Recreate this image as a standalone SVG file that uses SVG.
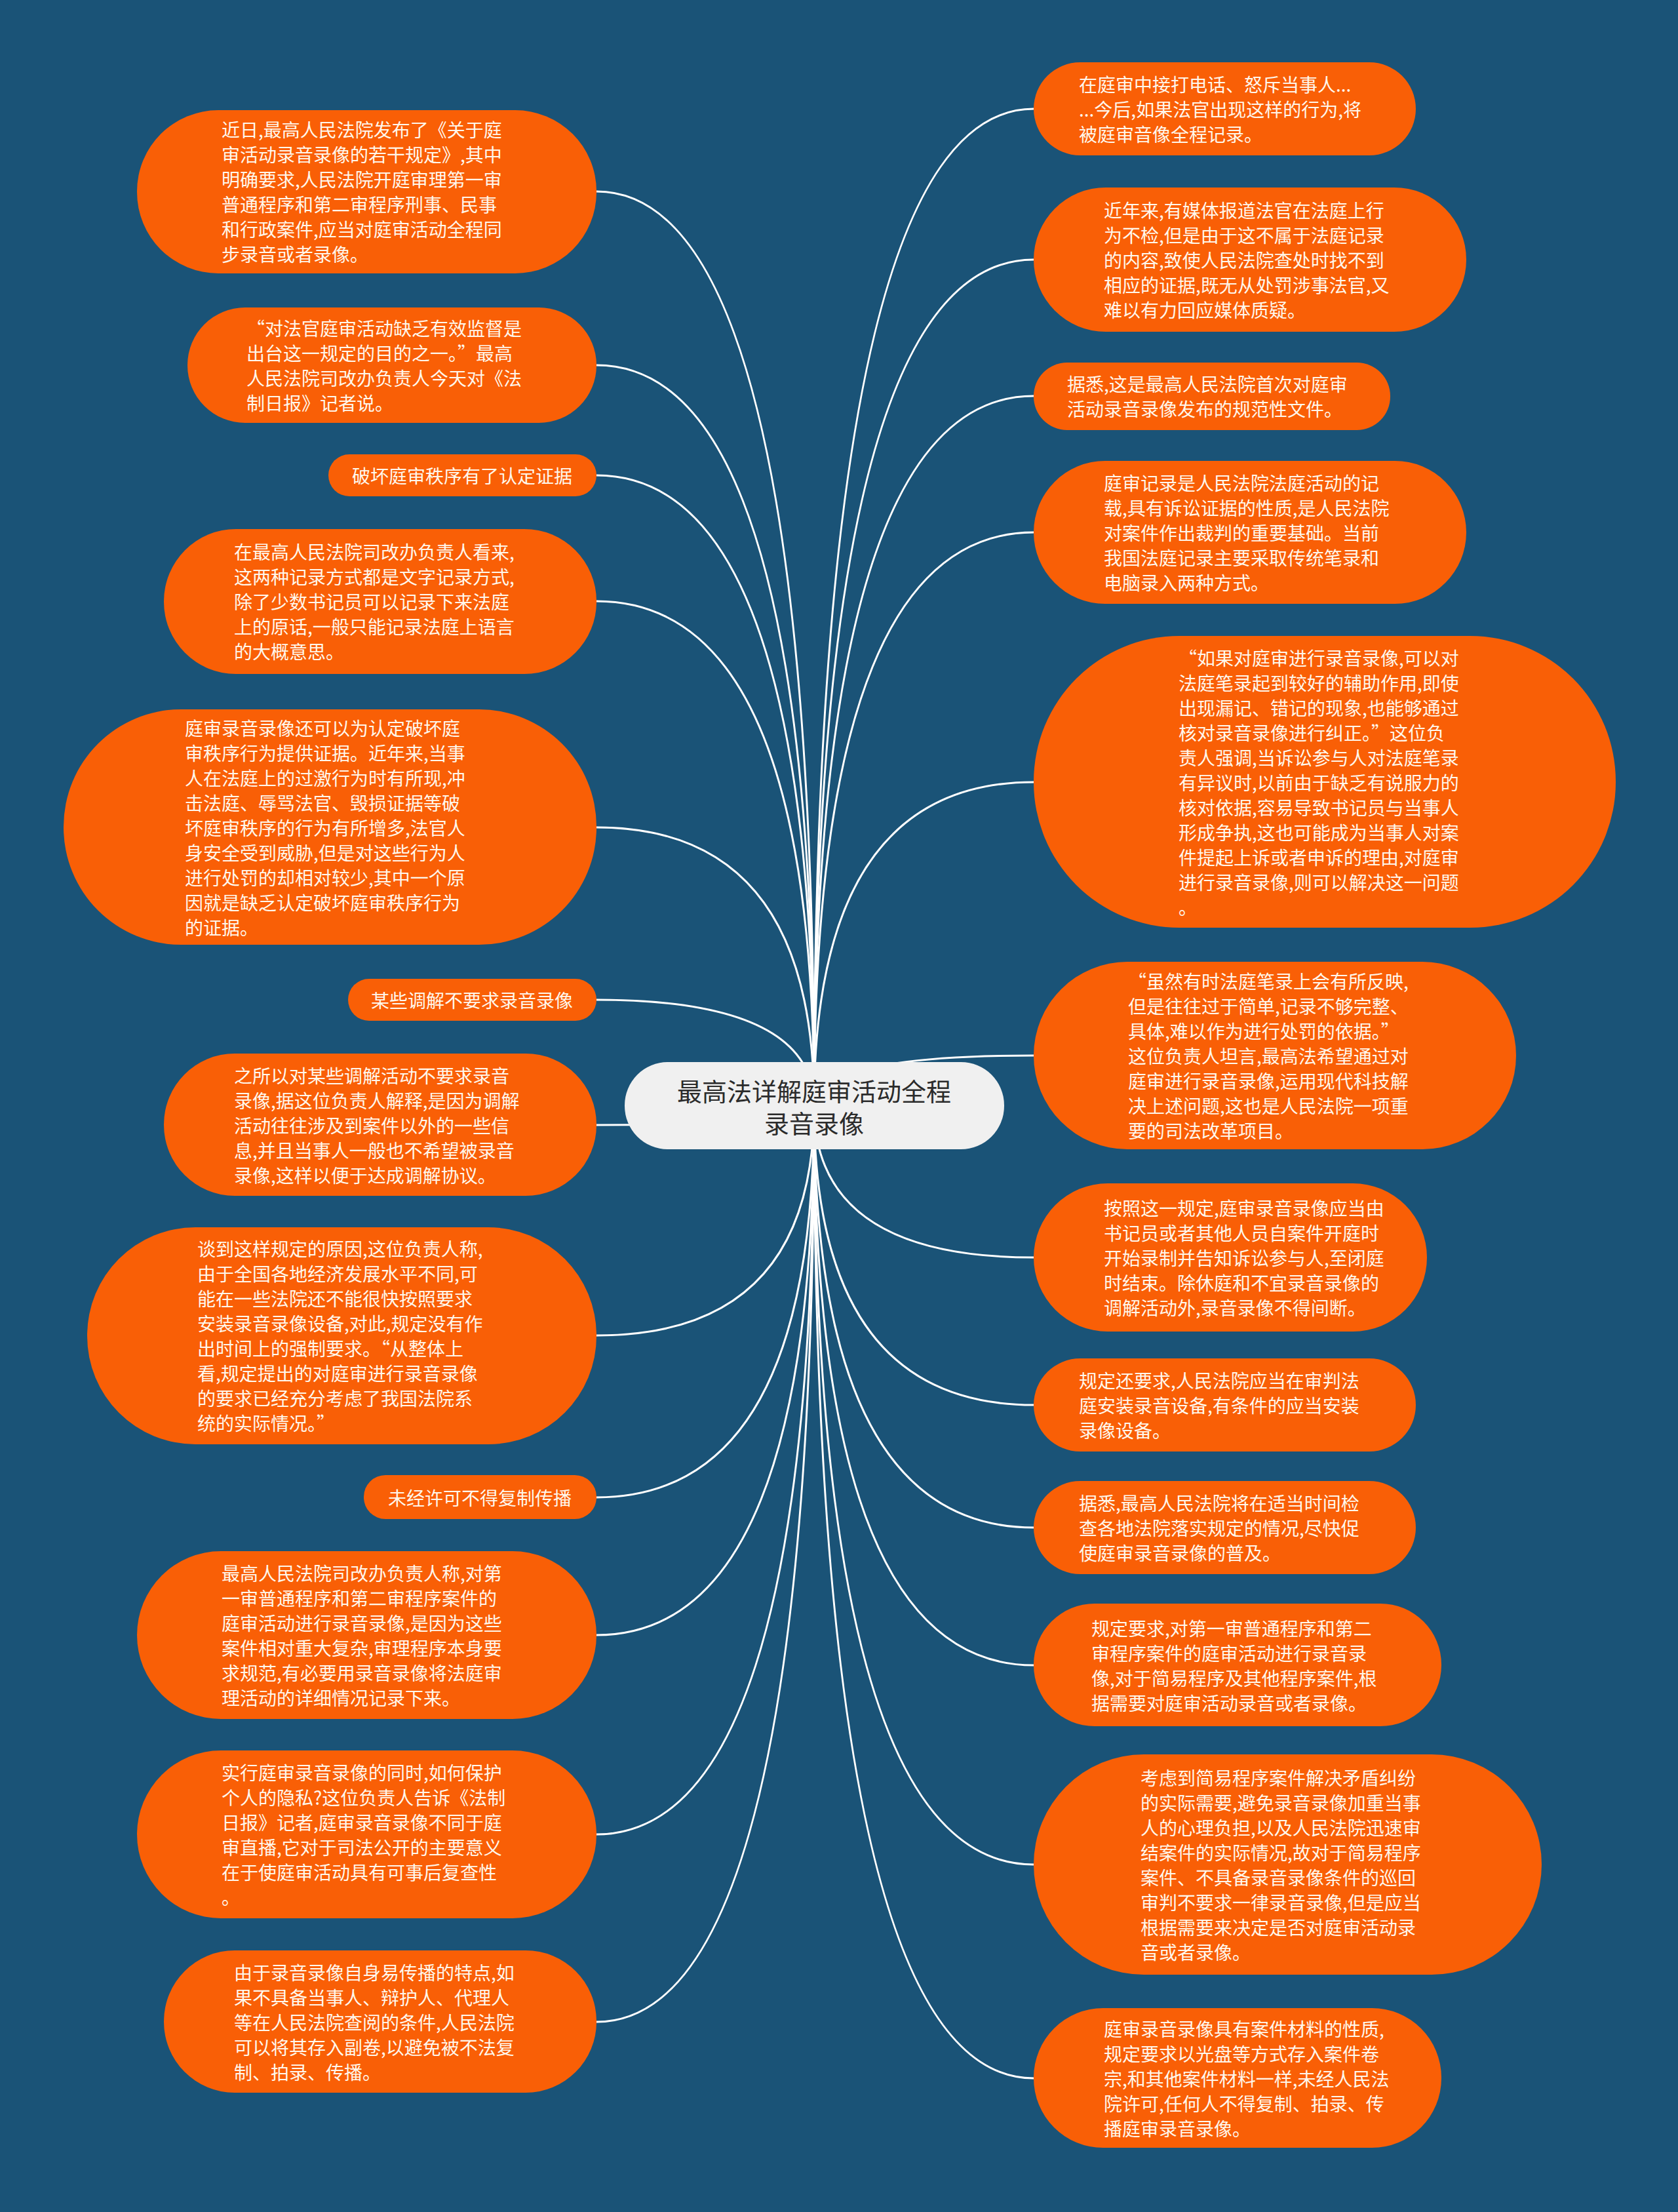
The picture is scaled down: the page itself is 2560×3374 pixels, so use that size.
<svg xmlns="http://www.w3.org/2000/svg" width="2560" height="3374" viewBox="0 0 2560 3374">
<defs>
<style>
.bg{fill:#1a5377}
.nd{fill:#f95f06}
.t{font-family:"Noto Sans CJK SC","Noto Sans",sans-serif;font-size:28px;fill:#fff7ec;dominant-baseline:central}
.m{text-anchor:middle}
.ct{font-family:"Noto Sans CJK SC","Noto Sans",sans-serif;font-size:38px;fill:#2b2b2b;text-anchor:middle;dominant-baseline:central}
.c{fill:none;stroke:#ffffff;stroke-width:3}
</style>
</defs>
<rect class="bg" x="0" y="0" width="2560" height="3374"/>
<g id="connectors">
<path class="c" d="M910,292 Q1242,292 1242,1687"/>
<path class="c" d="M910,557 Q1242,557 1242,1687"/>
<path class="c" d="M910,725 Q1242,725 1242,1687"/>
<path class="c" d="M910,917 Q1242,917 1242,1687"/>
<path class="c" d="M910,1262 Q1242,1262 1242,1687"/>
<path class="c" d="M910,1525 Q1242,1525 1242,1687"/>
<path class="c" d="M910,1716 Q1242,1716 1242,1687"/>
<path class="c" d="M910,2037 Q1242,2037 1242,1687"/>
<path class="c" d="M910,2284 Q1242,2284 1242,1687"/>
<path class="c" d="M910,2494 Q1242,2494 1242,1687"/>
<path class="c" d="M910,2798 Q1242,2798 1242,1687"/>
<path class="c" d="M910,3084 Q1242,3084 1242,1687"/>
<path class="c" d="M1577,166 Q1242,166 1242,1687"/>
<path class="c" d="M1577,396 Q1242,396 1242,1687"/>
<path class="c" d="M1577,604 Q1242,604 1242,1687"/>
<path class="c" d="M1577,812 Q1242,812 1242,1687"/>
<path class="c" d="M1577,1193 Q1242,1193 1242,1687"/>
<path class="c" d="M1577,1610 Q1242,1610 1242,1687"/>
<path class="c" d="M1577,1918 Q1242,1918 1242,1687"/>
<path class="c" d="M1577,2143 Q1242,2143 1242,1687"/>
<path class="c" d="M1577,2330 Q1242,2330 1242,1687"/>
<path class="c" d="M1577,2540 Q1242,2540 1242,1687"/>
<path class="c" d="M1577,2844 Q1242,2844 1242,1687"/>
<path class="c" d="M1577,3170 Q1242,3170 1242,1687"/>
</g>
<g id="center">
<rect x="953" y="1620" width="579" height="133" rx="66" fill="#f0f0f0"/>
<text class="ct" x="1242" y="1662">最高法详解庭审活动全程</text>
<text class="ct" x="1242" y="1711">录音录像</text>
</g>
<g id="L1">
<rect class="nd" x="209" y="168" width="701" height="249" rx="124"/>
<text class="t" x="338" y="197">近日,最高人民法院发布了《关于庭</text>
<text class="t" x="338" y="235">审活动录音录像的若干规定》,其中</text>
<text class="t" x="338" y="273">明确要求,人民法院开庭审理第一审</text>
<text class="t" x="338" y="311">普通程序和第二审程序刑事、民事</text>
<text class="t" x="338" y="349">和行政案件,应当对庭审活动全程同</text>
<text class="t" x="338" y="387">步录音或者录像。</text>
</g>
<g id="L2">
<rect class="nd" x="286" y="469" width="624" height="176" rx="88"/>
<text class="t" x="376" y="500">“对法官庭审活动缺乏有效监督是</text>
<text class="t" x="376" y="538">出台这一规定的目的之一。”最高</text>
<text class="t" x="376" y="576">人民法院司改办负责人今天对《法</text>
<text class="t" x="376" y="614">制日报》记者说。</text>
</g>
<g id="L3">
<rect class="nd" x="501" y="693" width="409" height="64" rx="32"/>
<text class="t m" x="705" y="725">破坏庭审秩序有了认定证据</text>
</g>
<g id="L4">
<rect class="nd" x="250" y="807" width="660" height="221" rx="110"/>
<text class="t" x="357" y="841">在最高人民法院司改办负责人看来,</text>
<text class="t" x="357" y="879">这两种记录方式都是文字记录方式,</text>
<text class="t" x="357" y="917">除了少数书记员可以记录下来法庭</text>
<text class="t" x="357" y="955">上的原话,一般只能记录法庭上语言</text>
<text class="t" x="357" y="993">的大概意思。</text>
</g>
<g id="L5">
<rect class="nd" x="97" y="1082" width="813" height="359" rx="179"/>
<text class="t" x="282" y="1110">庭审录音录像还可以为认定破坏庭</text>
<text class="t" x="282" y="1148">审秩序行为提供证据。近年来,当事</text>
<text class="t" x="282" y="1186">人在法庭上的过激行为时有所现,冲</text>
<text class="t" x="282" y="1224">击法庭、辱骂法官、毁损证据等破</text>
<text class="t" x="282" y="1262">坏庭审秩序的行为有所增多,法官人</text>
<text class="t" x="282" y="1300">身安全受到威胁,但是对这些行为人</text>
<text class="t" x="282" y="1338">进行处罚的却相对较少,其中一个原</text>
<text class="t" x="282" y="1376">因就是缺乏认定破坏庭审秩序行为</text>
<text class="t" x="282" y="1414">的证据。</text>
</g>
<g id="L6">
<rect class="nd" x="531" y="1493" width="379" height="64" rx="32"/>
<text class="t m" x="720" y="1525">某些调解不要求录音录像</text>
</g>
<g id="L7">
<rect class="nd" x="250" y="1607" width="660" height="217" rx="108"/>
<text class="t" x="357" y="1640">之所以对某些调解活动不要求录音</text>
<text class="t" x="357" y="1678">录像,据这位负责人解释,是因为调解</text>
<text class="t" x="357" y="1716">活动往往涉及到案件以外的一些信</text>
<text class="t" x="357" y="1754">息,并且当事人一般也不希望被录音</text>
<text class="t" x="357" y="1792">录像,这样以便于达成调解协议。</text>
</g>
<g id="L8">
<rect class="nd" x="133" y="1872" width="777" height="331" rx="165"/>
<text class="t" x="301" y="1904">谈到这样规定的原因,这位负责人称,</text>
<text class="t" x="301" y="1942">由于全国各地经济发展水平不同,可</text>
<text class="t" x="301" y="1980">能在一些法院还不能很快按照要求</text>
<text class="t" x="301" y="2018">安装录音录像设备,对此,规定没有作</text>
<text class="t" x="301" y="2056">出时间上的强制要求。“从整体上</text>
<text class="t" x="301" y="2094">看,规定提出的对庭审进行录音录像</text>
<text class="t" x="301" y="2132">的要求已经充分考虑了我国法院系</text>
<text class="t" x="301" y="2170">统的实际情况。”</text>
</g>
<g id="L9">
<rect class="nd" x="555" y="2250" width="355" height="67" rx="33"/>
<text class="t m" x="732" y="2284">未经许可不得复制传播</text>
</g>
<g id="L10">
<rect class="nd" x="209" y="2366" width="701" height="256" rx="128"/>
<text class="t" x="338" y="2399">最高人民法院司改办负责人称,对第</text>
<text class="t" x="338" y="2437">一审普通程序和第二审程序案件的</text>
<text class="t" x="338" y="2475">庭审活动进行录音录像,是因为这些</text>
<text class="t" x="338" y="2513">案件相对重大复杂,审理程序本身要</text>
<text class="t" x="338" y="2551">求规范,有必要用录音录像将法庭审</text>
<text class="t" x="338" y="2589">理活动的详细情况记录下来。</text>
</g>
<g id="L11">
<rect class="nd" x="209" y="2670" width="701" height="256" rx="128"/>
<text class="t" x="338" y="2703">实行庭审录音录像的同时,如何保护</text>
<text class="t" x="338" y="2741">个人的隐私?这位负责人告诉《法制</text>
<text class="t" x="338" y="2779">日报》记者,庭审录音录像不同于庭</text>
<text class="t" x="338" y="2817">审直播,它对于司法公开的主要意义</text>
<text class="t" x="338" y="2855">在于使庭审活动具有可事后复查性</text>
<text class="t" x="338" y="2893">。</text>
</g>
<g id="L12">
<rect class="nd" x="250" y="2975" width="660" height="217" rx="108"/>
<text class="t" x="357" y="3008">由于录音录像自身易传播的特点,如</text>
<text class="t" x="357" y="3046">果不具备当事人、辩护人、代理人</text>
<text class="t" x="357" y="3084">等在人民法院查阅的条件,人民法院</text>
<text class="t" x="357" y="3122">可以将其存入副卷,以避免被不法复</text>
<text class="t" x="357" y="3160">制、拍录、传播。</text>
</g>
<g id="R1">
<rect class="nd" x="1577" y="95" width="583" height="142" rx="71"/>
<text class="t" x="1646" y="128">在庭审中接打电话、怒斥当事人...</text>
<text class="t" x="1646" y="166">...今后,如果法官出现这样的行为,将</text>
<text class="t" x="1646" y="204">被庭审音像全程记录。</text>
</g>
<g id="R2">
<rect class="nd" x="1577" y="286" width="660" height="220" rx="110"/>
<text class="t" x="1684" y="320">近年来,有媒体报道法官在法庭上行</text>
<text class="t" x="1684" y="358">为不检,但是由于这不属于法庭记录</text>
<text class="t" x="1684" y="396">的内容,致使人民法院查处时找不到</text>
<text class="t" x="1684" y="434">相应的证据,既无从处罚涉事法官,又</text>
<text class="t" x="1684" y="472">难以有力回应媒体质疑。</text>
</g>
<g id="R3">
<rect class="nd" x="1577" y="553" width="544" height="103" rx="51"/>
<text class="t" x="1628" y="585">据悉,这是最高人民法院首次对庭审</text>
<text class="t" x="1628" y="623">活动录音录像发布的规范性文件。</text>
</g>
<g id="R4">
<rect class="nd" x="1577" y="703" width="660" height="218" rx="109"/>
<text class="t" x="1684" y="736">庭审记录是人民法院法庭活动的记</text>
<text class="t" x="1684" y="774">载,具有诉讼证据的性质,是人民法院</text>
<text class="t" x="1684" y="812">对案件作出裁判的重要基础。当前</text>
<text class="t" x="1684" y="850">我国法庭记录主要采取传统笔录和</text>
<text class="t" x="1684" y="888">电脑录入两种方式。</text>
</g>
<g id="R5">
<rect class="nd" x="1577" y="970" width="888" height="445" rx="222"/>
<text class="t" x="1798" y="1003">“如果对庭审进行录音录像,可以对</text>
<text class="t" x="1798" y="1041">法庭笔录起到较好的辅助作用,即使</text>
<text class="t" x="1798" y="1079">出现漏记、错记的现象,也能够通过</text>
<text class="t" x="1798" y="1117">核对录音录像进行纠正。”这位负</text>
<text class="t" x="1798" y="1155">责人强调,当诉讼参与人对法庭笔录</text>
<text class="t" x="1798" y="1193">有异议时,以前由于缺乏有说服力的</text>
<text class="t" x="1798" y="1231">核对依据,容易导致书记员与当事人</text>
<text class="t" x="1798" y="1269">形成争执,这也可能成为当事人对案</text>
<text class="t" x="1798" y="1307">件提起上诉或者申诉的理由,对庭审</text>
<text class="t" x="1798" y="1345">进行录音录像,则可以解决这一问题</text>
<text class="t" x="1798" y="1383">。</text>
</g>
<g id="R6">
<rect class="nd" x="1577" y="1467" width="736" height="286" rx="143"/>
<text class="t" x="1721" y="1496">“虽然有时法庭笔录上会有所反映,</text>
<text class="t" x="1721" y="1534">但是往往过于简单,记录不够完整、</text>
<text class="t" x="1721" y="1572">具体,难以作为进行处罚的依据。”</text>
<text class="t" x="1721" y="1610">这位负责人坦言,最高法希望通过对</text>
<text class="t" x="1721" y="1648">庭审进行录音录像,运用现代科技解</text>
<text class="t" x="1721" y="1686">决上述问题,这也是人民法院一项重</text>
<text class="t" x="1721" y="1724">要的司法改革项目。</text>
</g>
<g id="R7">
<rect class="nd" x="1577" y="1805" width="600" height="226" rx="113"/>
<text class="t" x="1684" y="1842">按照这一规定,庭审录音录像应当由</text>
<text class="t" x="1684" y="1880">书记员或者其他人员自案件开庭时</text>
<text class="t" x="1684" y="1918">开始录制并告知诉讼参与人,至闭庭</text>
<text class="t" x="1684" y="1956">时结束。除休庭和不宜录音录像的</text>
<text class="t" x="1684" y="1994">调解活动外,录音录像不得间断。</text>
</g>
<g id="R8">
<rect class="nd" x="1577" y="2072" width="583" height="142" rx="71"/>
<text class="t" x="1646" y="2105">规定还要求,人民法院应当在审判法</text>
<text class="t" x="1646" y="2143">庭安装录音设备,有条件的应当安装</text>
<text class="t" x="1646" y="2181">录像设备。</text>
</g>
<g id="R9">
<rect class="nd" x="1577" y="2259" width="583" height="142" rx="71"/>
<text class="t" x="1646" y="2292">据悉,最高人民法院将在适当时间检</text>
<text class="t" x="1646" y="2330">查各地法院落实规定的情况,尽快促</text>
<text class="t" x="1646" y="2368">使庭审录音录像的普及。</text>
</g>
<g id="R10">
<rect class="nd" x="1577" y="2446" width="622" height="187" rx="93"/>
<text class="t" x="1665" y="2483">规定要求,对第一审普通程序和第二</text>
<text class="t" x="1665" y="2521">审程序案件的庭审活动进行录音录</text>
<text class="t" x="1665" y="2559">像,对于简易程序及其他程序案件,根</text>
<text class="t" x="1665" y="2597">据需要对庭审活动录音或者录像。</text>
</g>
<g id="R11">
<rect class="nd" x="1577" y="2676" width="775" height="336" rx="168"/>
<text class="t" x="1740" y="2711">考虑到简易程序案件解决矛盾纠纷</text>
<text class="t" x="1740" y="2749">的实际需要,避免录音录像加重当事</text>
<text class="t" x="1740" y="2787">人的心理负担,以及人民法院迅速审</text>
<text class="t" x="1740" y="2825">结案件的实际情况,故对于简易程序</text>
<text class="t" x="1740" y="2863">案件、不具备录音录像条件的巡回</text>
<text class="t" x="1740" y="2901">审判不要求一律录音录像,但是应当</text>
<text class="t" x="1740" y="2939">根据需要来决定是否对庭审活动录</text>
<text class="t" x="1740" y="2977">音或者录像。</text>
</g>
<g id="R12">
<rect class="nd" x="1577" y="3063" width="622" height="213" rx="106"/>
<text class="t" x="1684" y="3094">庭审录音录像具有案件材料的性质,</text>
<text class="t" x="1684" y="3132">规定要求以光盘等方式存入案件卷</text>
<text class="t" x="1684" y="3170">宗,和其他案件材料一样,未经人民法</text>
<text class="t" x="1684" y="3208">院许可,任何人不得复制、拍录、传</text>
<text class="t" x="1684" y="3246">播庭审录音录像。</text>
</g>
</svg>
